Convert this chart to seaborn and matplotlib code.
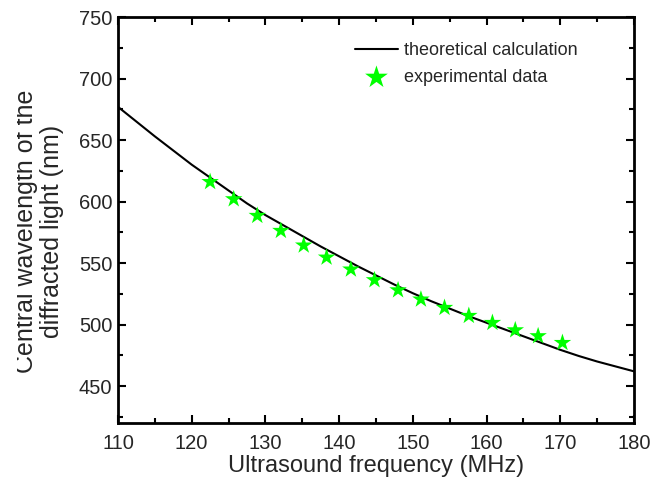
import matplotlib
matplotlib.use("Agg")
import matplotlib.pyplot as plt
import seaborn as sns
from matplotlib.patches import Rectangle
from matplotlib.ticker import MultipleLocator

# Theoretical curve
curve_freq = [110, 112.5, 115, 117.5, 120, 122.5, 125, 127.5, 130, 132.5,
              135, 137.5, 140, 142.5, 145, 147.5, 150, 152.5, 155, 157.5,
              160, 162.5, 165, 167.5, 170, 172.5, 175, 177.5, 180]
curve_wl = [677, 665, 653, 641.5, 630, 619.5, 609, 598.5, 589, 580.5,
            572, 563.5, 555.5, 547.5, 540, 532.5, 525.5, 519, 513, 507,
            501.5, 496, 490.5, 485, 479.5, 474.5, 470, 466, 462]

# Experimental points (stars)
exp_freq = [122.5, 125.7, 128.9, 132.1, 135.2, 138.3, 141.6, 144.8,
            148.0, 151.1, 154.3, 157.6, 160.8, 163.9, 167.0, 170.3]
exp_wl = [616.0, 602.0, 588.5, 576.3, 564.4, 554.6, 544.9, 536.2,
          528.0, 520.5, 513.7, 507.2, 501.5, 495.5, 490.7, 485.2]

x_ticks = [110, 120, 130, 140, 150, 160, 170, 180]
y_ticks = [450, 500, 550, 600, 650, 700, 750]

sns.set_style("ticks")
plt.rcParams['font.family'] = ['Liberation Sans', 'DejaVu Sans']

fig = plt.figure(figsize=(6.65, 4.82), dpi=100)
ax = fig.add_axes([0.1774, 0.1224, 0.7759, 0.8423])

sns.lineplot(x=curve_freq, y=curve_wl, ax=ax, color='black', linewidth=1.5,
             label='theoretical calculation')
sns.scatterplot(x=exp_freq, y=exp_wl, ax=ax, marker='*', s=175, color='#00ff00',
                edgecolor='none', linewidth=0, label='experimental data', zorder=3)

ax.set_xlim(110, 180)
ax.set_ylim(420, 750)
ax.set_xticks(x_ticks)
ax.set_yticks(y_ticks)
ax.xaxis.set_minor_locator(MultipleLocator(5))
ax.yaxis.set_minor_locator(MultipleLocator(25))

for side in ['top', 'right', 'bottom', 'left']:
    ax.spines[side].set_visible(True)
    ax.spines[side].set_linewidth(2.0)
    ax.spines[side].set_color('black')

ax.tick_params(which='both', direction='in', top=True, right=True, color='black')
ax.tick_params(which='major', length=6, width=1.5, labelsize=14.5)
ax.tick_params(axis='x', which='major', pad=8)
ax.tick_params(axis='y', which='major', pad=4)
ax.tick_params(which='minor', length=3.5, width=1.5)

ax.set_xlabel('Ultrasound frequency (MHz)', fontsize=17)
ax.xaxis.set_label_coords(0.5, -0.078)
ax.set_ylabel('Central wavelength of the\ndiffracted light (nm)', fontsize=18,
              linespacing=1.1, multialignment='center')
ax.yaxis.set_label_coords(-0.104, 0.473)

leg = ax.legend(loc='upper left', bbox_to_anchor=(0.459, 0.938), frameon=False,
                fontsize=13, handlelength=2.4, handletextpad=0.35,
                labelspacing=0.55, borderpad=0, borderaxespad=0, markerscale=1.3)

# the left edge of the original image cuts into the first label line
fig.patches.append(Rectangle((0, 0), 17 / 665, 1, transform=fig.transFigure,
                             facecolor='white', edgecolor='none', zorder=10))

fig.savefig('out.png', dpi=100)
